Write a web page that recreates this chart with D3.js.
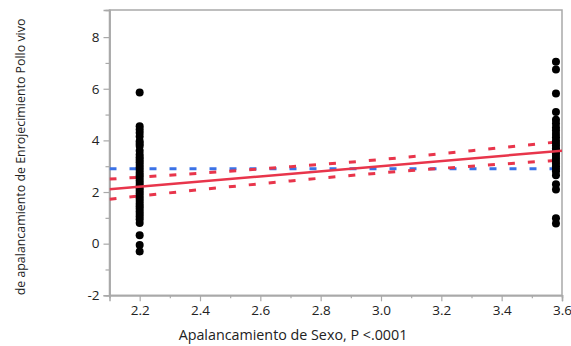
<!DOCTYPE html>
<html>
<head>
<meta charset="utf-8">
<script src="https://cdn.jsdelivr.net/npm/d3@7"></script>
<style>
  html, body { margin: 0; padding: 0; background: #fff; }
  svg { display: block; font-family: "Open Sans", "Noto Sans", sans-serif; }
</style>
</head>
<body>
<svg id="chart" width="571" height="346"></svg>
<script>
// ---- data ----
const groupX = [2.2, 3.58];
const leftValues = [5.85, 4.55, 4.42, 4.3, 4.15, 3.97, 3.87, 3.78, 3.6, 3.45, 3.35, 3.25, 3.15, 3.05, 2.95, 2.85, 2.75, 2.65, 2.55,
  2.45, 2.35, 2.25, 2.15, 2.05, 1.95, 1.85, 1.75, 1.65, 1.55, 1.45, 1.35, 1.25, 1.15, 1.05, 0.95, 0.8, 0.33, -0.05, -0.3];
const rightValues = [7.05, 6.75, 5.82, 5.1, 4.8, 4.65, 4.5, 4.38, 4.25, 4.12, 4.0, 3.9, 3.8, 3.7, 3.6, 3.5, 3.4,
  3.3, 3.2, 3.1, 3.0, 2.9, 2.8, 2.65, 2.3, 2.1, 0.98, 0.78];
const fitX = [2.1, 3.6];
const fitY = [2.11, 3.6];
const meanY = 2.9;
const bandX = [2.1, 2.4, 2.7, 3.0, 3.3, 3.6];
const bandUpper = [2.50, 2.73, 2.98, 3.26, 3.60, 3.96];
const bandLower = [1.72, 2.09, 2.43, 2.74, 3.00, 3.24];
const xMajorTicks = [2.2, 2.4, 2.6, 2.8, 3.0, 3.2, 3.4, 3.6];
const xMinorTicks = [2.3, 2.5, 2.7, 2.9, 3.1, 3.3, 3.5];
const yMajorTicks = [-2, 0, 2, 4, 6, 8];
const yMinorTicks = [-1, 1, 3, 5, 7];
const xTitle = "Apalancamiento de Sexo, P <.0001";
const yTitle = "de apalancamiento de Enrojecimiento Pollo vivo";

// ---- layout ----
const svg = d3.select("#chart");
const mLeft = 109.5, mRight = 562, mTop = 10, mBottom = 295.3;
const x = d3.scaleLinear().domain([2.1, 3.6]).range([mLeft, mRight]);
const y = d3.scaleLinear().domain([-2, 9.05]).range([mBottom, mTop]);

const RED = "#e8354b", BLUE = "#3b72e6", FRAME = "#a9a9a9", TEXT = "#222";

// frame
svg.append("rect").attr("x", mLeft).attr("y", mTop).attr("width", mRight - mLeft).attr("height", mBottom - mTop)
  .attr("fill", "none").attr("stroke", FRAME).attr("stroke-width", 1.5);

// axes
const xAxis = d3.axisBottom(x).tickValues(xMajorTicks).tickFormat(d3.format(".1f")).tickSize(6).tickPadding(4);
const gx = svg.append("g").attr("transform", `translate(0,${mBottom})`).call(xAxis);
const xMinor = d3.axisBottom(x).tickValues(xMinorTicks).tickFormat("").tickSize(3);
const gx2 = svg.append("g").attr("transform", `translate(0,${mBottom})`).call(xMinor);

const yAxis = d3.axisLeft(y).tickValues(yMajorTicks).tickFormat(d => String(d)).tickSize(6).tickPadding(4);
const gy = svg.append("g").attr("transform", `translate(${mLeft},0)`).call(yAxis);
const yMinor = d3.axisLeft(y).tickValues(yMinorTicks).tickFormat("").tickSize(4);
const gy2 = svg.append("g").attr("transform", `translate(${mLeft},0)`).call(yMinor);

[gx, gx2, gy, gy2].forEach(g => {
  g.select(".domain").attr("stroke", FRAME).attr("stroke-width", 1.5);
  g.selectAll(".tick line").attr("stroke", FRAME).attr("stroke-width", 1.2);
  g.selectAll(".tick text").attr("fill", TEXT).style("font-size", "13.5px")
   .style("font-family", '"Open Sans", sans-serif');
});

// plot clip
svg.append("clipPath").attr("id", "clip").append("rect")
  .attr("x", mLeft).attr("y", mTop).attr("width", mRight - mLeft).attr("height", mBottom - mTop);
const plot = svg.append("g").attr("clip-path", "url(#clip)");

// mean line (blue dashed)
plot.append("line")
  .attr("x1", x(2.1)).attr("x2", x(3.6)).attr("y1", y(meanY)).attr("y2", y(meanY))
  .attr("stroke", BLUE).attr("stroke-width", 3).attr("stroke-dasharray", "7,13");

// confidence bands
const bandLine = d3.line().x(d => x(d[0])).y(d => y(d[1])).curve(d3.curveMonotoneX);
plot.append("path").datum(bandX.map((v, i) => [v, bandUpper[i]])).attr("d", bandLine)
  .attr("fill", "none").attr("stroke", RED).attr("stroke-width", 3).attr("stroke-dasharray", "7,13");
plot.append("path").datum(bandX.map((v, i) => [v, bandLower[i]])).attr("d", bandLine)
  .attr("fill", "none").attr("stroke", RED).attr("stroke-width", 3).attr("stroke-dasharray", "7,13");

// points
const pts = [];
leftValues.forEach(v => pts.push([groupX[0], v]));
rightValues.forEach(v => pts.push([groupX[1], v]));
plot.selectAll("circle.pt").data(pts).enter().append("circle").attr("class", "pt")
  .attr("cx", d => x(d[0])).attr("cy", d => y(d[1])).attr("r", 4).attr("fill", "#000");

// fit line
plot.append("path").datum(fitX.map((v, i) => [v, fitY[i]])).attr("d", d3.line().x(d => x(d[0])).y(d => y(d[1])))
  .attr("fill", "none").attr("stroke", RED).attr("stroke-width", 2.5);

// titles
svg.append("text").attr("x", 293).attr("y", 340).attr("text-anchor", "middle")
  .attr("fill", TEXT).style("font-size", "14.3px").text(xTitle);
svg.append("text").attr("transform", `translate(25,157) rotate(-90)`).attr("text-anchor", "middle")
  .attr("fill", TEXT).style("font-size", "12.4px").text(yTitle);
</script>
</body>
</html>
